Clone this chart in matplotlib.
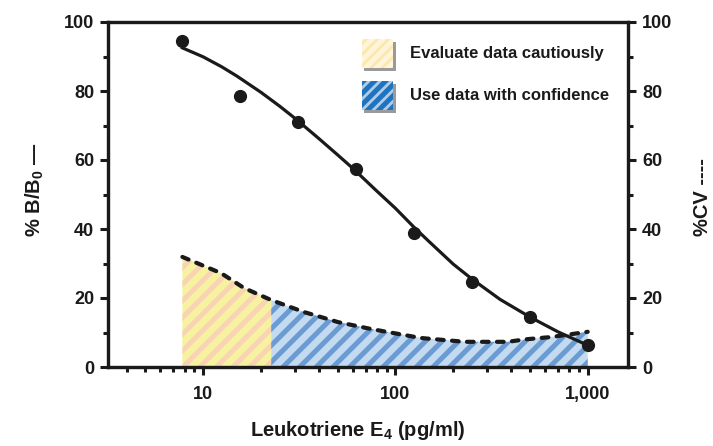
import matplotlib.pyplot as plt
from matplotlib.patches import Rectangle
from matplotlib.ticker import FixedLocator, LogLocator, NullFormatter

plt.rcParams['font.family'] = ['Liberation Sans', 'DejaVu Sans']
plt.rcParams['font.weight'] = 'bold'
plt.rcParams['mathtext.fontset'] = 'custom'
plt.rcParams['mathtext.rm'] = 'Liberation Sans:bold'
plt.rcParams['mathtext.bf'] = 'Liberation Sans:bold'
plt.rcParams['hatch.linewidth'] = 3.6

# standards (pg/ml) and measured %B/B0
conc = [7.8, 15.6, 31.3, 62.5, 125, 250, 500, 1000]
pct_b = [94.5, 78.5, 71.0, 57.5, 38.8, 24.6, 14.5, 6.4]

# fitted standard curve
fit_x = [7.8, 10, 12.5, 15, 20, 25, 30, 40, 50, 60, 80, 100, 125, 150, 200,
         250, 350, 500, 700, 1000]
fit_y = [92.5, 89.9, 87.0, 84.3, 79.6, 75.6, 72.1, 66.2, 61.5, 57.6, 51.0,
         46.0, 40.5, 36.3, 29.8, 25.5, 19.6, 14.5, 10.2, 6.3]

# %CV curve
cv_x = [7.8, 12.4, 16.3, 22.6, 33.6, 50.4, 75, 92, 136, 230, 385, 470, 650, 890, 1000]
cv_y = [31.9, 27.2, 22.9, 19.4, 15.9, 13.0, 11.0, 10.1, 8.4, 7.3, 7.3, 8.0, 8.7, 9.8, 10.2]
caution_limit = 22.6

legend_labels = ['Evaluate data cautiously', 'Use data with confidence']
y_ticks = [0, 20, 40, 60, 80, 100]
x_ticks = [10, 100, 1000]
x_ticklabels = ['10', '100', '1,000']

fig = plt.figure(figsize=(7.13, 4.46), dpi=100)
ax = fig.add_axes([108 / 713, 1 - 367 / 446, 520 / 713, 345 / 446])
ax2 = ax.twinx()

# shaded %CV regions
i = cv_x.index(caution_limit)
ax.fill_between(cv_x[:i + 1], 0, cv_y[:i + 1], facecolor='#f7f2a0',
                edgecolor='#f8d4b4', hatch='//', linewidth=0, zorder=1)
ax.fill_between(cv_x[i:], 0, cv_y[i:], facecolor='#c3daf0',
                edgecolor='#6a9bd3', hatch='//', linewidth=0, zorder=1)
ax.plot(cv_x, cv_y, color='#1a1a1a', lw=3.0, linestyle=(0, (1.6, 2.0)),
        dash_capstyle='round', zorder=3)

# standard curve
ax.plot(fit_x, fit_y, color='#1a1a1a', lw=2.3, zorder=4)
ax.plot(conc, pct_b, 'o', color='#1a1a1a', ms=8.5, zorder=5)

ax.set_xscale('log')
ax.set_xlim(3.2, 1620)
ax.set_ylim(0, 100)
ax2.set_ylim(0, 100)

ax.xaxis.set_major_locator(FixedLocator(x_ticks))
ax.set_xticklabels(x_ticklabels)
ax.xaxis.set_minor_locator(LogLocator(base=10, subs=range(2, 10)))
ax.xaxis.set_minor_formatter(NullFormatter())

for a in (ax, ax2):
    a.set_yticks(y_ticks)
    a.yaxis.set_minor_locator(FixedLocator([10, 30, 50, 70, 90]))
    for s in a.spines.values():
        s.set_linewidth(2.3)
        s.set_color('#1a1a1a')
    a.tick_params(which='major', length=6, width=2.2, labelsize=13,
                  color='#1a1a1a', labelcolor='#1a1a1a')
    a.tick_params(which='minor', length=3.5, width=2.2, color='#1a1a1a')

ax.tick_params(axis='x', which='major', pad=8)
ax.tick_params(axis='y', which='major', pad=4)
ax2.tick_params(axis='y', which='major', pad=4)

# legend boxes
boxes = [(0.488, 0.867, '#fde7ae', '#fff5d8'), (0.488, 0.745, '#b0cce8', '#1f74bf')]
for (bx, by, fc, hc), lab in zip(boxes, legend_labels):
    ax.add_patch(Rectangle((bx + 0.005, by - 0.008), 0.061, 0.084,
                           transform=ax.transAxes, facecolor='#9a9a9a',
                           linewidth=0, zorder=6))
    ax.add_patch(Rectangle((bx, by), 0.061, 0.084, transform=ax.transAxes,
                           facecolor=fc, edgecolor=hc, hatch='///',
                           linewidth=0, zorder=7))
    ax.text(0.581, by + 0.042, lab, transform=ax.transAxes, fontsize=12,
            va='center', ha='left', color='#1a1a1a', zorder=8)

fig.text(358 / 713, 1 - 430 / 446, 'Leukotriene E$_4$ (pg/ml)', ha='center',
         va='center', fontsize=14.5, color='#1a1a1a')
fig.text(35 / 713, 1 - 190 / 446, '% B/B$_0$ —', rotation=90, ha='center',
         va='center', fontsize=14.5, color='#1a1a1a')
fig.text(703 / 713, 1 - 197 / 446, '%CV ----', rotation=90, ha='center',
         va='center', fontsize=14.5, color='#1a1a1a')

fig.savefig('out.png', dpi=100)
